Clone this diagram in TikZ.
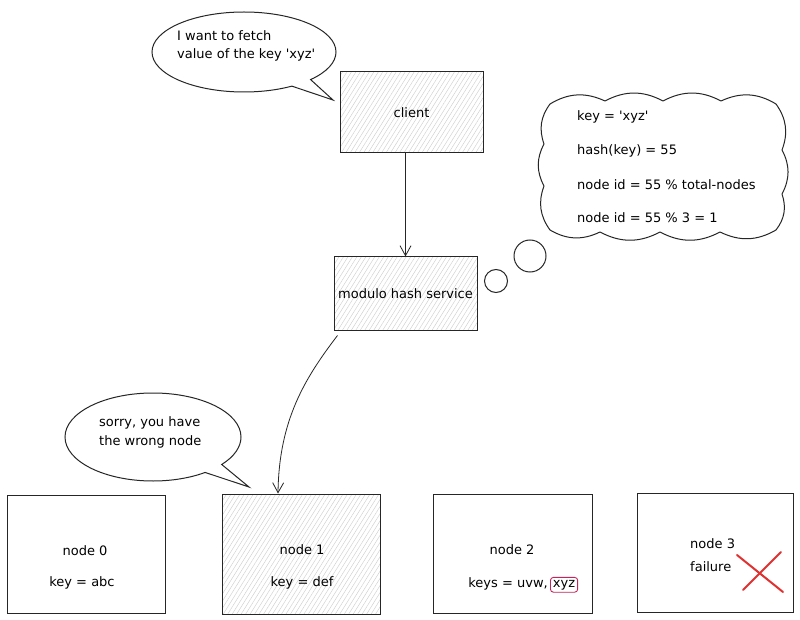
\documentclass[tikz,border=0pt]{standalone}
\usepackage{fontspec}
\setmainfont{DejaVu Sans}
\usetikzlibrary{arrows.meta,patterns.meta,shapes.callouts,shapes.geometric}
\definecolor{xred}{HTML}{E03131}
\definecolor{bred}{HTML}{C2255C}
\begin{document}
\begin{tikzpicture}[x=1pt,y=-1pt,
  box/.style={draw=black!85, line width=1pt, inner sep=0pt},
  hatched/.style={preaction={fill=white}, preaction={pattern color=gray!40, pattern={Lines[angle=58,distance=3.8pt,line width=0.4pt]}}},
  txt/.style={font=\fontsize{13}{16}\selectfont, inner sep=0pt},
  bubble/.style={ellipse callout, draw=black!85, line width=1pt, inner sep=0pt},
  arrow/.style={draw=black!85, line width=0.8pt, -{Straight Barb[length=10pt,width=11pt]}},
  puff/.style={draw=black!85, line width=1pt, line join=round}
]
\fill[white] (0,0) rectangle (800,620);
\useasboundingbox (0,0) rectangle (800,620);

% speech bubble 1
\node[bubble, minimum width=184pt, minimum height=80pt, callout absolute pointer={(333,100)}] (bubble1) at (244,52) {};
\node[txt, align=left, anchor=west, font=\fontsize{13}{18}\selectfont] (b1txt) at (177,46) {I want to fetch\\value of the key \textquotesingle xyz\textquotesingle};

% client
\node[box, hatched, minimum width=143pt, minimum height=81pt, font=\fontsize{13}{16}\selectfont] (client) at (411.5,112.5) {client};

% modulo hash service
\node[box, hatched, minimum width=143pt, minimum height=73pt, font=\fontsize{13}{16}\selectfont] (modulo) at (405.5,293.5) {modulo hash service};

% thought cloud
\draw[puff] (550,104) to[bend left=28] (605,101) to[bend left=28] (663,101)
  to[bend left=28] (721,101) to[bend left=28] (776,104)
  to[bend left=28] (782,150) to[bend left=28] (782,194) to[bend left=28] (776,230)
  to[bend left=28] (720,232) to[bend left=28] (660,232) to[bend left=28] (600,232)
  to[bend left=28] (550,230) to[bend left=28] (544,186) to[bend left=28] (544,144)
  to[bend left=28] cycle;
\coordinate (cloud) at (663,168);
\node[txt, anchor=west] (c1) at (577,117) {key = \textquotesingle xyz\textquotesingle};
\node[txt, anchor=west] (c2) at (577,151) {hash(key) = 55};
\node[txt, anchor=west] (c3) at (577,185) {node id = 55 \% total-nodes};
\node[txt, anchor=west] (c4) at (577,218) {node id = 55 \% 3 = 1};
\node[circle, draw=black!85, line width=1pt, minimum size=32pt, inner sep=0pt] (dot1) at (530,256) {};
\node[circle, draw=black!85, line width=1pt, minimum size=23pt, inner sep=0pt] (dot2) at (496,281) {};

% speech bubble 2
\node[bubble, minimum width=176pt, minimum height=88pt, callout absolute pointer={(249,487)}] (bubble2) at (153,437) {};
\node[txt, align=left, anchor=west, font=\fontsize{13}{19}\selectfont] (b2txt) at (99,432) {sorry, you have\\the wrong node};

% storage nodes
\node[box, minimum width=158pt, minimum height=118pt] (node0) at (86,554) {};
\node[box, hatched, minimum width=158pt, minimum height=120pt] (node1) at (301,554) {};
\node[box, minimum width=159pt, minimum height=119pt] (node2) at (512.5,553.5) {};
\node[box, minimum width=156pt, minimum height=119pt] (node3) at (715,552.5) {};

\node[txt] (n0a) at (85,551) {node 0};
\node[txt] (n0b) at (82,583) {key = abc};
\node[txt] (n1a) at (302,550) {node 1};
\node[txt] (n1b) at (302,583) {key = def};
\node[txt] (n2a) at (512,550) {node 2};
\node[txt, anchor=base east] (n2b) at (548,587) {keys = uvw,};
\node[txt, anchor=base west, draw=bred, line width=0.9pt, rounded corners=3pt, inner sep=2.5pt] (n2c) at (550,587) {xyz};
\node[txt, anchor=west] (n3a) at (690,544) {node 3};
\node[txt, anchor=west] (n3b) at (690,567) {failure};
\draw[xred, line width=2pt, line cap=round] (737,555) -- (783,592);
\draw[xred, line width=2pt, line cap=round] (743,590) -- (781,552);

% connectors
\draw[arrow] (client.south -| modulo.north) -- (modulo.north);
\draw[arrow] ([shift={(4,5)}]modulo.south west) .. controls (305,378) and (279,420) .. ([xshift=-23pt]node1.north);
\end{tikzpicture}
\end{document}
